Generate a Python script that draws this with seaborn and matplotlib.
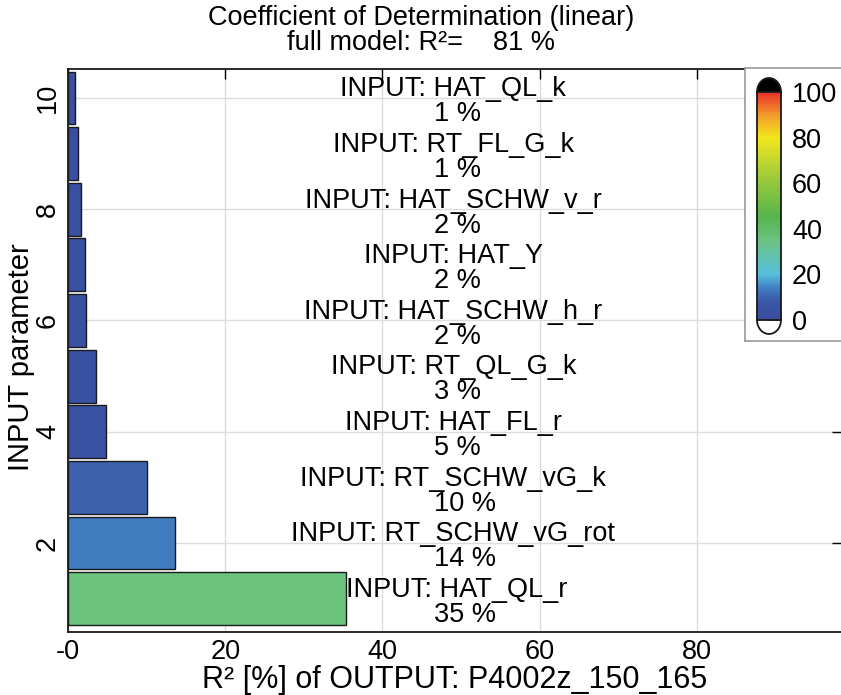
import numpy as np
import matplotlib
matplotlib.use("Agg")
import matplotlib.pyplot as plt
import seaborn as sns
from matplotlib.colors import LinearSegmentedColormap, Normalize
from matplotlib.patches import Ellipse

# ---- data ----
positions = [1, 2, 3, 4, 5, 6, 7, 8, 9, 10]
names = ["HAT_QL_r", "RT_SCHW_vG_rot", "RT_SCHW_vG_k", "HAT_FL_r", "RT_QL_G_k",
         "HAT_SCHW_h_r", "HAT_Y", "HAT_SCHW_v_r", "RT_FL_G_k", "HAT_QL_k"]
values = [35.3, 13.6, 10.0, 4.8, 3.5, 2.3, 2.1, 1.7, 1.3, 0.9]
pct_labels = [35, 14, 10, 5, 3, 2, 2, 2, 1, 1]
xticks = [0, 20, 40, 60, 80]
xticklabels = ["-0", "20", "40", "60", "80"]
yticks = [2, 4, 6, 8, 10]
cbar_ticks = [0, 20, 40, 60, 80, 100]
full_model_r2 = 81
output_name = "P4002z_150_165"

sns.set_style("white")
plt.rcParams["font.family"] = ["Liberation Sans", "DejaVu Sans"]
plt.rcParams["text.color"] = "black"
plt.rcParams["axes.labelcolor"] = "black"

cmap = LinearSegmentedColormap.from_list(
    "r2map",
    [(0.0, "#3a4ea1"), (0.06, "#3a53a4"), (0.10, "#3c63ad"), (0.14, "#4280c4"),
     (0.20, "#58bfdc"), (0.35, "#6cc380"), (0.45, "#55b54c"), (0.62, "#9cc93c"),
     (0.80, "#f3e71d"), (0.90, "#f39a2a"), (1.0, "#e8302a")])
norm = Normalize(0, 100)

W, H = 841, 695
fig = plt.figure(figsize=(W / 100, H / 100), dpi=100)
ax = fig.add_axes([68 / W, (H - 632) / H, (842 - 68) / W, (632 - 69) / H])

palette = {p: cmap(norm(v)) for p, v in zip(positions, values)}
sns.barplot(x=values, y=positions, hue=positions, palette=palette, orient="h",
            native_scale=True, width=0.95, edgecolor="#1a1a1a", linewidth=1.0,
            saturation=1, legend=False, ax=ax, zorder=3)

ax.set_xlim(0, (842 - 68) / 7.8625)
ax.set_ylim(0.40, 10.52)
ax.set_xticks(xticks)
ax.set_xticklabels(xticklabels)
ax.set_yticks(yticks)
ax.set_yticklabels([str(t) for t in yticks], rotation=90, va="center")
ax.grid(True, color="#dcdcdc", linewidth=1.0, zorder=0)
ax.set_axisbelow(True)
ax.tick_params(axis="both", which="both", direction="in", length=7, width=1,
               top=True, right=True, labelsize=19.5, colors="black")
ax.tick_params(axis="x", pad=5)
ax.tick_params(axis="y", pad=5)
for s in ax.spines.values():
    s.set_visible(True)
    s.set_color("#1a1a1a")
    s.set_linewidth(1.3)

ax.set_xlabel(f"R² [%] of OUTPUT: {output_name}", fontsize=22, labelpad=0)
ax.set_ylabel("INPUT parameter", fontsize=21, labelpad=2)
ax.yaxis.set_label_coords(-0.043, 0.488)

# bar annotations
for p, v, n, pc in zip(positions, values, names, pct_labels):
    if v > 30:
        ax.text(v, p + 0.03, f"INPUT: {n}", ha="left", va="baseline", fontsize=19.5, zorder=5)
    else:
        ax.text(49.0, p + 0.03, f"INPUT: {n}", ha="center", va="baseline", fontsize=19.5, zorder=5)
    ax.text(46.6, p - 0.06, f"{pc} %", ha="left", va="top", fontsize=19.5, zorder=5)

# title
fig.text(421 / W, 1 - 18 / H, "Coefficient of Determination (linear)", ha="center", va="center", fontsize=19.5)
fig.text(421 / W, 1 - 43 / H, f"full model: R²=    {full_model_r2} %", ha="center", va="center", fontsize=19.5)

# colorbar box
box = fig.add_axes([745 / W, (H - 341) / H, 100 / W, (341 - 68) / H])
box.set_facecolor("white")
box.set_xticks([]); box.set_yticks([])
for s in box.spines.values():
    s.set_color("#9a9a9a"); s.set_linewidth(1.2)

cb_top, cb_bot, cb_left, cb_w = 92, 320, 757, 24
# rounded end caps (black over / white under)
for yc, fc in [(cb_top, "black"), (cb_bot, "white")]:
    box.add_patch(Ellipse(((cb_left + cb_w / 2) / W, 1 - yc / H), cb_w / W, 28 / H,
                          transform=fig.transFigure, facecolor=fc, edgecolor="#1a1a1a",
                          linewidth=1.3, clip_on=False))

cax = fig.add_axes([cb_left / W, (H - cb_bot) / H, cb_w / W, (cb_bot - cb_top) / H])
sm = matplotlib.cm.ScalarMappable(norm=norm, cmap=cmap)
cb = fig.colorbar(sm, cax=cax, ticks=cbar_ticks)
cb.outline.set_linewidth(1.3)
cb.outline.set_edgecolor("#1a1a1a")
cax.tick_params(direction="in", length=10, width=1.2, color="#1a1a1a", labelsize=19.5,
                pad=8, labelcolor="black")

fig.savefig("out.png", dpi=100)
